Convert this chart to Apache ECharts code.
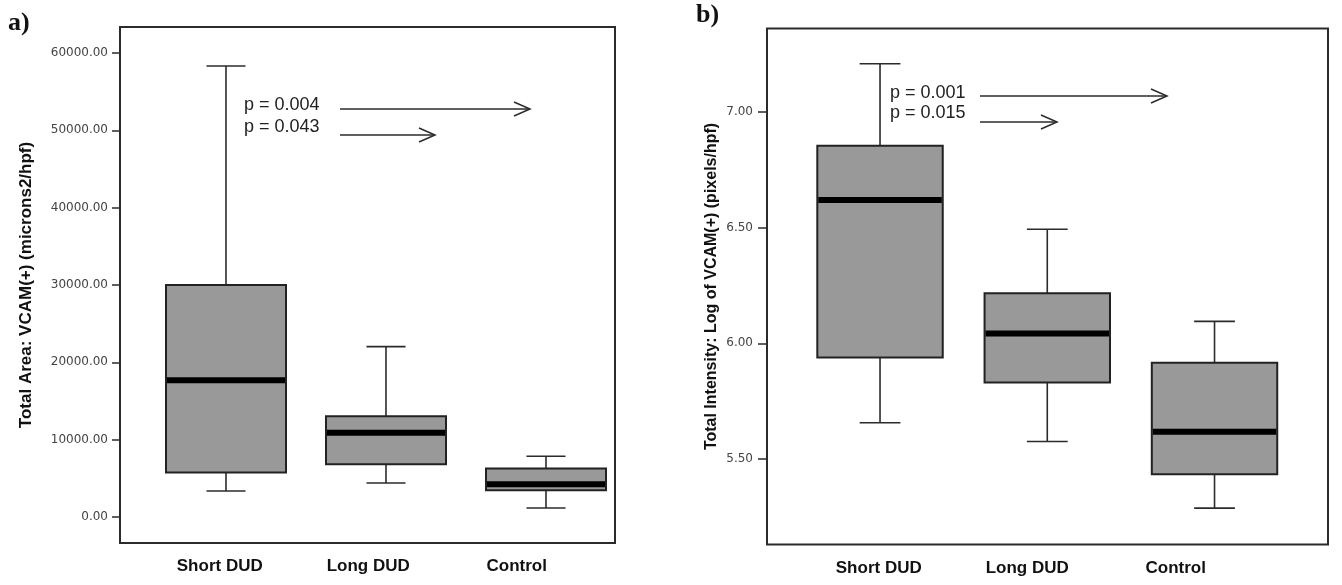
<!DOCTYPE html>
<html>
<head>
<meta charset="utf-8">
<title>VCAM box plots</title>
<script src="https://cdn.jsdelivr.net/npm/echarts@6/dist/echarts.min.js"></script>
<style>
  html, body { margin: 0; padding: 0; background: #fff; }
</style>
</head>
<body>
<div id="chart" style="width:1342px;height:585px;"></div>
<script>
// groups on the x axis
const categories = ['Short DUD', 'Long DUD', 'Control'];

// a) Total Area: VCAM(+) (microns2/hpf)
const areaLow = [3360, 4400, 1160];
const areaQ1 = [5740, 6810, 3450];
const areaMedian = [17680, 10910, 4230];
const areaQ3 = [30000, 13020, 6260];
const areaHigh = [58320, 22030, 7850];
const areaTicks = [0, 10000, 20000, 30000, 40000, 50000, 60000];

// b) Total Intensity: Log of VCAM(+) (pixels/hpf)
const logLow = [5.657, 5.576, 5.288];
const logQ1 = [5.939, 5.831, 5.435];
const logMedian = [6.619, 6.043, 5.618];
const logQ3 = [6.853, 6.216, 5.916];
const logHigh = [7.208, 6.493, 6.095];
const logTicks = [5.5, 6.0, 6.5, 7.0];

function boxData(low, q1, med, q3, high) {
    return categories.map(function (c, i) {
        return [i, low[i], q1[i], med[i], q3[i], high[i]];
    });
}

const lineCol = '#2b2b2b';

// box + whiskers with short caps and a thick median bar
function renderBox(params, api) {
    const x = api.value(0);
    const pLow = api.coord([x, api.value(1)]);
    const pQ1 = api.coord([x, api.value(2)]);
    const pMed = api.coord([x, api.value(3)]);
    const pQ3 = api.coord([x, api.value(4)]);
    const pHigh = api.coord([x, api.value(5)]);
    const band = api.size([1, 0])[0];
    const half = band * 0.375;
    const cap = band * 0.122;
    const cx = pMed[0];
    const wStyle = { stroke: lineCol, lineWidth: 1.6 };
    return {
        type: 'group',
        children: [
            { type: 'line', shape: { x1: cx, y1: pHigh[1], x2: cx, y2: pQ3[1] }, style: wStyle },
            { type: 'line', shape: { x1: cx - cap, y1: pHigh[1], x2: cx + cap, y2: pHigh[1] }, style: wStyle },
            { type: 'line', shape: { x1: cx, y1: pLow[1], x2: cx, y2: pQ1[1] }, style: wStyle },
            { type: 'line', shape: { x1: cx - cap, y1: pLow[1], x2: cx + cap, y2: pLow[1] }, style: wStyle },
            {
                type: 'rect',
                shape: { x: cx - half, y: pQ3[1], width: half * 2, height: pQ1[1] - pQ3[1] },
                style: { fill: '#999999', stroke: '#222', lineWidth: 2 }
            },
            {
                type: 'line',
                shape: { x1: cx - half + 1, y1: pMed[1], x2: cx + half - 1, y2: pMed[1] },
                style: { stroke: '#000', lineWidth: 6 }
            }
        ]
    };
}

function arrow(x1, x2, y) {
    return {
        type: 'group',
        children: [
            { type: 'line', shape: { x1: x1, y1: y, x2: x2, y2: y }, style: { stroke: lineCol, lineWidth: 1.5 } },
            { type: 'polyline', shape: { points: [[x2 - 16, y - 7], [x2, y], [x2 - 16, y + 7]] }, style: { stroke: lineCol, lineWidth: 1.5, fill: null } }
        ]
    };
}

function pText(txt, x, y) {
    return {
        type: 'text', x: x, y: y,
        style: { text: txt, fontFamily: 'Liberation Sans, Arial', fontSize: 18, fill: '#222', verticalAlign: 'middle' }
    };
}

const hiddenAxis = function (i) { return { gridIndex: i, type: 'value', show: false }; };

const tickStyle = { color: lineCol, width: 1.5 };
const catLabel = { fontFamily: 'Liberation Sans, Arial', fontWeight: 'bold', fontSize: 17, color: '#111', margin: 15 };
const numLabel = { fontFamily: 'DejaVu Sans', fontSize: 12, color: '#444' };

const frame = { show: true, borderColor: lineCol, borderWidth: 2, backgroundColor: 'transparent', outerBoundsMode: 'none' };

const chart = echarts.init(document.getElementById('chart'));

const option = {
    backgroundColor: '#fff',
    animation: false,
    grid: [
        Object.assign({ left: 120, top: 27, width: 495, height: 516 }, frame),
        { left: 146, top: 27, width: 480, height: 516, outerBoundsMode: 'none' },
        { left: 145.5, top: 27, width: 445.5, height: 516, outerBoundsMode: 'none' },
        Object.assign({ left: 767, top: 28.5, width: 561, height: 516 }, frame),
        { left: 796.4, top: 28.5, width: 501.75, height: 516, outerBoundsMode: 'none' },
        { left: 804.5, top: 28.5, width: 445.5, height: 516, outerBoundsMode: 'none' }
    ],
    xAxis: [
        hiddenAxis(0),
        { gridIndex: 1, type: 'category', data: categories, show: false },
        {
            gridIndex: 2, type: 'category', data: categories,
            axisLine: { show: false },
            axisTick: { alignWithLabel: true, length: 10, lineStyle: tickStyle },
            axisLabel: catLabel
        },
        hiddenAxis(3),
        { gridIndex: 4, type: 'category', data: categories, show: false },
        {
            gridIndex: 5, type: 'category', data: categories,
            axisLine: { show: false },
            axisTick: { alignWithLabel: true, length: 10, lineStyle: tickStyle },
            axisLabel: catLabel
        }
    ],
    yAxis: [
        hiddenAxis(0),
        {
            gridIndex: 1, type: 'value', min: -3360, max: 63360, offset: 26,
            name: 'Total Area: VCAM(+) (microns2/hpf)',
            nameLocation: 'middle', nameGap: 85,
            nameTextStyle: { fontFamily: 'Liberation Sans, Arial', fontWeight: 'bold', fontSize: 17, color: '#111' },
            axisLine: { show: false },
            splitLine: { show: false },
            axisTick: { show: true, length: 8, lineStyle: tickStyle, customValues: areaTicks },
            axisLabel: Object.assign({ margin: 12, customValues: areaTicks, formatter: function (v) { return v.toFixed(2); } }, numLabel)
        },
        hiddenAxis(2),
        hiddenAxis(3),
        {
            gridIndex: 4, type: 'value', min: 5.131, max: 7.36, offset: 29.4,
            name: 'Total Intensity: Log of VCAM(+) (pixels/hpf)',
            nameLocation: 'middle', nameGap: 47,
            nameTextStyle: { fontFamily: 'Liberation Sans, Arial', fontWeight: 'bold', fontSize: 16, color: '#111' },
            axisLine: { show: false },
            splitLine: { show: false },
            axisTick: { show: true, length: 9, lineStyle: tickStyle, customValues: logTicks },
            axisLabel: Object.assign({ margin: 14, customValues: logTicks, formatter: function (v) { return v.toFixed(2); } }, numLabel)
        },
        hiddenAxis(5)
    ],
    series: [
        {
            type: 'custom', xAxisIndex: 1, yAxisIndex: 1,
            renderItem: renderBox,
            encode: { x: 0, y: [1, 2, 3, 4, 5] },
            data: boxData(areaLow, areaQ1, areaMedian, areaQ3, areaHigh)
        },
        {
            type: 'custom', xAxisIndex: 4, yAxisIndex: 4,
            renderItem: renderBox,
            encode: { x: 0, y: [1, 2, 3, 4, 5] },
            data: boxData(logLow, logQ1, logMedian, logQ3, logHigh)
        }
    ],
    graphic: [
        { type: 'text', x: 8, y: 10, style: { text: 'a)', fontFamily: 'Liberation Serif', fontWeight: 'bold', fontSize: 26, fill: '#111' } },
        { type: 'text', x: 696, y: 2, style: { text: 'b)', fontFamily: 'Liberation Serif', fontWeight: 'bold', fontSize: 26, fill: '#111' } },
        pText('p = 0.004', 244, 105),
        pText('p = 0.043', 244, 127),
        arrow(340, 530, 109),
        arrow(340, 435, 135),
        pText('p = 0.001', 890, 93),
        pText('p = 0.015', 890, 113),
        arrow(980, 1167, 96),
        arrow(980, 1057, 122)
    ]
};

chart.setOption(option);

window.addEventListener('resize', function () {
    chart.resize();
});
</script>
</body>
</html>
